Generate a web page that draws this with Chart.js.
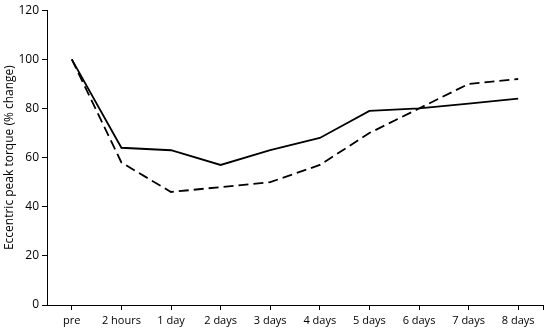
<!DOCTYPE html>
<html>
<head>
<meta charset="utf-8">
<script src="https://cdn.jsdelivr.net/npm/chart.js@4"></script>
<style>
html,body{margin:0;padding:0;background:#fff;}
#wrap{width:550px;height:331px;position:relative;}
</style>
</head>
<body>
<div id="wrap"><canvas id="c" width="550" height="331"></canvas></div>
<script>
const categories = ["pre","2 hours","1 day","2 days","3 days","4 days","5 days","6 days","7 days","8 days"];
const solidSeries = [100, 64, 63, 57, 63, 68, 79, 80, 82, 84];
const dashedSeries = [100, 58, 46, 48, 50, 57, 70, 80, 90, 92];
const yTicks = [0, 20, 40, 60, 80, 100, 120];
const yTitle = "Eccentric peak torque (% change)";

const FONT = "'Open Sans', 'Liberation Sans', sans-serif";

const endTick = {
  id: 'endTick',
  afterDraw(chart) {
    const ctx = chart.ctx, a = chart.chartArea;
    ctx.save();
    ctx.strokeStyle = '#000';
    ctx.lineWidth = 1;
    ctx.beginPath();
    ctx.moveTo(Math.round(a.right) + 0.5, a.bottom);
    ctx.lineTo(Math.round(a.right) + 0.5, a.bottom + 5);
    ctx.stroke();
    ctx.restore();
  }
};

new Chart(document.getElementById('c'), {
  type: 'line',
  data: {
    labels: categories,
    datasets: [
      { data: solidSeries, borderColor: '#000', borderWidth: 1.8, pointRadius: 0, tension: 0, fill: false },
      { data: dashedSeries, borderColor: '#000', borderWidth: 1.8, borderDash: [10, 5], pointRadius: 0, tension: 0, fill: false }
    ]
  },
  options: {
    responsive: false,
    animation: false,
    devicePixelRatio: 1,
    layout: { padding: { top: 9, right: 7, bottom: 0, left: 0 } },
    plugins: { legend: { display: false }, tooltip: { enabled: false } },
    scales: {
      x: {
        offset: true,
        grid: { display: true, drawOnChartArea: false, drawTicks: true, tickLength: 5, color: '#000', offset: false },
        border: { display: true, color: '#000', width: 1 },
        ticks: { color: '#000', font: { family: FONT, size: 11 }, maxRotation: 0, autoSkip: false, padding: 4 },
        afterFit(s) { s.height = 26; }
      },
      y: {
        min: 0, max: 120,
        afterBuildTicks(s) { s.ticks = yTicks.map(v => ({ value: v })); },
        grid: { display: true, drawOnChartArea: false, drawTicks: true, tickLength: 5, color: '#000' },
        border: { display: true, color: '#000', width: 1 },
        ticks: { color: '#000', font: { family: FONT, size: 12 }, padding: 3 },
        title: { display: true, text: yTitle, color: '#000', font: { family: FONT, size: 12 }, padding: { top: 2, bottom: 4 } },
        afterFit(s) { s.width = 47; }
      }
    }
  },
  plugins: [endTick]
});
</script>
</body>
</html>
